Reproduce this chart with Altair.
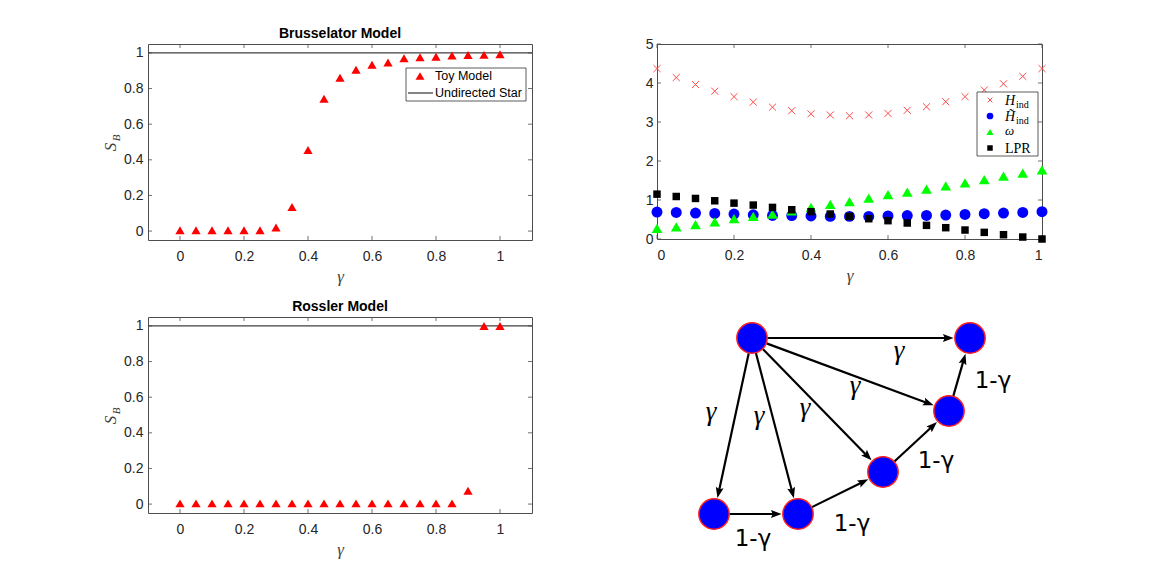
import altair as alt
import numpy as np
import pandas as pd

# ---------------- data ----------------
gamma = [0.0, 0.05, 0.1, 0.15, 0.2, 0.25, 0.3, 0.35, 0.4, 0.45, 0.5,
         0.55, 0.6, 0.65, 0.7, 0.75, 0.8, 0.85, 0.9, 0.95, 1.0]
brusselator_sb = [0.005, 0.005, 0.005, 0.005, 0.005, 0.005, 0.02, 0.135, 0.455, 0.743, 0.86,
                  0.905, 0.933, 0.946, 0.97, 0.975, 0.978, 0.985, 0.988, 0.989, 0.992]
rossler_sb = [0.004, 0.004, 0.004, 0.004, 0.004, 0.004, 0.004, 0.004, 0.004, 0.004, 0.004,
              0.004, 0.004, 0.004, 0.004, 0.004, 0.004, 0.004, 0.075, 1.0, 1.0]
undirected_star_sb = [1.0]

h_ind = [4.37, 4.14, 3.96, 3.79, 3.65, 3.51, 3.38, 3.29, 3.21, 3.18, 3.16,
         3.18, 3.22, 3.30, 3.39, 3.52, 3.65, 3.82, 3.98, 4.17, 4.37]
h_ind_tilde = [0.69, 0.68, 0.665, 0.655, 0.64, 0.62, 0.605, 0.60, 0.59, 0.58, 0.58,
               0.58, 0.59, 0.60, 0.605, 0.615, 0.63, 0.65, 0.665, 0.68, 0.70]
omega = [0.27, 0.31, 0.37, 0.44, 0.52, 0.58, 0.64, 0.72, 0.81, 0.89, 0.96,
         1.05, 1.14, 1.20, 1.28, 1.36, 1.44, 1.52, 1.61, 1.69, 1.77]
lpr = [1.15, 1.09, 1.04, 0.98, 0.92, 0.87, 0.81, 0.75, 0.70, 0.64, 0.58,
       0.52, 0.47, 0.41, 0.35, 0.29, 0.23, 0.17, 0.11, 0.05, 0.0]

sb_xticks = [0, 0.2, 0.4, 0.6, 0.8, 1]
sb_yticks = [0, 0.2, 0.4, 0.6, 0.8, 1]
met_xticks = [0, 0.2, 0.4, 0.6, 0.8, 1]
met_yticks = [0, 1, 2, 3, 4, 5]

# network diagram (layout units)
node_x = [81, 299, 278, 212, 127, 43]
node_y = [21, 21, 94, 155, 197, 197]
edge_from = [0, 0, 0, 0, 0, 5, 4, 3, 2]
edge_to = [5, 4, 3, 2, 1, 4, 3, 2, 1]
gamma_text = ["γ", "γ", "γ", "γ", "γ"]
gamma_text_x = [40, 88, 134, 184, 228]
gamma_text_y = [103, 107, 99, 77, 42]
one_minus_text = ["1-γ", "1-γ", "1-γ", "1-γ"]
one_minus_text_x = [82, 181, 265, 322]
one_minus_text_y = [229, 214, 151, 71]

# ---------------- style ----------------
SANS = "Liberation Sans"
SERIF = "Liberation Serif"
FRAME = "#4d4d4d"
SB_W, SB_H = 384, 196
MET_W, MET_H = 385, 195
G_W, G_H = 370, 245

one = pd.DataFrame({"v": [0]})


def inner_ticks(xt, yt, xs, ys, xa, ya, W, H):
    xdf = pd.DataFrame({"t": xt})
    ydf = pd.DataFrame({"t": yt})
    base = dict(color=FRAME, strokeWidth=0.8)
    return [
        alt.Chart(xdf).mark_rule(**base).encode(x=alt.X("t:Q", scale=xs, axis=xa), y=alt.value(H), y2=alt.value(H - 4)),
        alt.Chart(xdf).mark_rule(**base).encode(x=alt.X("t:Q", scale=xs, axis=xa), y=alt.value(0), y2=alt.value(4)),
        alt.Chart(ydf).mark_rule(**base).encode(y=alt.Y("t:Q", scale=ys, axis=ya), x=alt.value(0), x2=alt.value(4)),
        alt.Chart(ydf).mark_rule(**base).encode(y=alt.Y("t:Q", scale=ys, axis=ya), x=alt.value(W - 4), x2=alt.value(W)),
    ]


def sb_panel(title, values, legend):
    xs = alt.Scale(domain=[-0.1, 1.1], nice=False, zero=False)
    ys = alt.Scale(domain=[-0.05, 1.05], nice=False, zero=False)
    xa = alt.Axis(values=sb_xticks, format="~g", title="γ", labelPadding=9, titlePadding=5)
    ya = alt.Axis(values=sb_yticks, format="~g", title=None, labelPadding=5)
    df = pd.DataFrame({"g": gamma, "sb": values})
    star = pd.DataFrame({"v": undirected_star_sb})
    layers = inner_ticks(sb_xticks, sb_yticks, xs, ys, xa, ya, SB_W, SB_H)
    layers.append(alt.Chart(star).mark_rule(color="#404040", strokeWidth=1.3).encode(
        y=alt.Y("v:Q", scale=ys, axis=ya)))
    layers.append(alt.Chart(df).mark_point(shape="triangle-up", filled=True, color="#ff0000",
                                           size=85, opacity=1).encode(
        x=alt.X("g:Q", scale=xs, axis=xa), y=alt.Y("sb:Q", scale=ys, axis=ya)))
    # y axis title S_B
    layers.append(alt.Chart(one).mark_text(text="S", angle=270, font=SERIF, fontStyle="italic",
                                           fontSize=17, color="#404040").encode(
        x=alt.value(-37), y=alt.value(103)))
    layers.append(alt.Chart(one).mark_text(text="B", angle=270, font=SERIF, fontStyle="italic",
                                           fontSize=11, color="#404040").encode(
        x=alt.value(-31), y=alt.value(94)))
    if legend:
        layers += [
            alt.Chart(one).mark_rect(fill="white", stroke="#333333", strokeWidth=0.8).encode(
                x=alt.value(258), x2=alt.value(378), y=alt.value(24), y2=alt.value(57)),
            alt.Chart(one).mark_point(shape="triangle-up", filled=True, color="#ff0000", size=80, opacity=1).encode(
                x=alt.value(272), y=alt.value(32)),
            alt.Chart(one).mark_rule(color="#404040", strokeWidth=1.3).encode(
                x=alt.value(260), x2=alt.value(285), y=alt.value(49)),
            alt.Chart(one).mark_text(text="Toy Model", font=SANS, fontSize=12.5, align="left",
                                     baseline="middle", color="#000000").encode(x=alt.value(287), y=alt.value(32)),
            alt.Chart(one).mark_text(text="Undirected Star", font=SANS, fontSize=12.5, align="left",
                                     baseline="middle", color="#000000").encode(x=alt.value(287), y=alt.value(49)),
        ]
    return alt.layer(*layers).properties(
        width=SB_W, height=SB_H,
        title=alt.TitleParams(title, font=SANS, fontSize=14, fontWeight="bold", color="#000000",
                              offset=3, frame="group", anchor="middle"))


def metrics_panel():
    xs = alt.Scale(domain=[0, 1], nice=False, zero=False)
    ys = alt.Scale(domain=[0, 5], nice=False, zero=False)
    xa = alt.Axis(values=met_xticks, format="~g", title="γ", labelPadding=9, titlePadding=5)
    ya = alt.Axis(values=met_yticks, format="~g", title=None, labelPadding=4)
    df = pd.DataFrame({"g": gamma, "h": h_ind, "ht": h_ind_tilde, "w": omega, "l": lpr})
    X = alt.X("g:Q", scale=xs, axis=xa)
    cross = "M-1,-1L1,1M-1,1L1,-1"
    layers = inner_ticks(met_xticks, met_yticks, xs, ys, xa, ya, MET_W, MET_H)
    layers += [
        alt.Chart(df).mark_point(shape=cross, filled=False, color="#ff4a4a", strokeWidth=1, size=50, opacity=1).encode(
            x=X, y=alt.Y("h:Q", scale=ys, axis=ya)),
        alt.Chart(df).mark_point(shape="circle", filled=True, color="#0000ff", size=120, opacity=1).encode(
            x=X, y=alt.Y("ht:Q", scale=ys, axis=ya)),
        alt.Chart(df).mark_point(shape="triangle-up", filled=True, color="#00ff00", size=115, opacity=1).encode(
            x=X, y=alt.Y("w:Q", scale=ys, axis=ya)),
        alt.Chart(df).mark_point(shape="square", filled=True, color="#000000", size=56, opacity=1).encode(
            x=X, y=alt.Y("l:Q", scale=ys, axis=ya)),
    ]
    # legend
    lx, tx = 333, 348
    rows = [56, 72, 88, 104]
    layers += [
        alt.Chart(one).mark_rect(fill="white", stroke="#333333", strokeWidth=0.8).encode(
            x=alt.value(320), x2=alt.value(381), y=alt.value(48), y2=alt.value(112)),
        alt.Chart(one).mark_point(shape=cross, filled=False, color="#ff4a4a", strokeWidth=1, size=22, opacity=1).encode(
            x=alt.value(lx), y=alt.value(rows[0])),
        alt.Chart(one).mark_point(shape="circle", filled=True, color="#0000ff", size=45, opacity=1).encode(
            x=alt.value(lx), y=alt.value(rows[1])),
        alt.Chart(one).mark_point(shape="triangle-up", filled=True, color="#00ff00", size=50, opacity=1).encode(
            x=alt.value(lx), y=alt.value(rows[2])),
        alt.Chart(one).mark_point(shape="square", filled=True, color="#000000", size=30, opacity=1).encode(
            x=alt.value(lx), y=alt.value(rows[3])),
    ]
    txt = dict(font=SERIF, color="#000000", align="left", baseline="alphabetic")
    layers += [
        alt.Chart(one).mark_text(text="H", fontSize=14, fontStyle="italic", **txt).encode(
            x=alt.value(tx), y=alt.value(rows[0] + 5)),
        alt.Chart(one).mark_text(text="ind", fontSize=10, **txt).encode(
            x=alt.value(tx + 11), y=alt.value(rows[0] + 8)),
        alt.Chart(one).mark_text(text="H\u0303", fontSize=14, fontStyle="italic", **txt).encode(
            x=alt.value(tx), y=alt.value(rows[1] + 5)),
        alt.Chart(one).mark_text(text="ind", fontSize=10, **txt).encode(
            x=alt.value(tx + 11), y=alt.value(rows[1] + 8)),
        alt.Chart(one).mark_text(text="ω", fontSize=13, fontStyle="italic", **txt).encode(
            x=alt.value(tx), y=alt.value(rows[2] + 3)),
        alt.Chart(one).mark_text(text="LPR", fontSize=14, **txt).encode(
            x=alt.value(tx), y=alt.value(rows[3] + 5)),
    ]
    return alt.layer(*layers).properties(width=MET_W, height=MET_H)


def graph_panel():
    gx = alt.Scale(domain=[0, G_W], nice=False, zero=False)
    gy = alt.Scale(domain=[0, G_H], nice=False, zero=False, reverse=True)
    NODE_R = 15.5
    HEAD_R = 6.0
    px = np.array(node_x, dtype=float)
    py = np.array(node_y, dtype=float)
    s = np.array(edge_from)
    d = np.array(edge_to)
    dx = px[d] - px[s]
    dy = py[d] - py[s]
    L = np.hypot(dx, dy)
    ux, uy = dx / L, dy / L
    tipx = px[d] - ux * (NODE_R + 1)
    tipy = py[d] - uy * (NODE_R + 1)
    edges = pd.DataFrame({
        "x1": px[s] + ux * NODE_R, "y1": py[s] + uy * NODE_R,
        "x2": tipx - ux * HEAD_R, "y2": tipy - uy * HEAD_R,
        "hx": tipx - ux * HEAD_R, "hy": tipy - uy * HEAD_R,
        "ang": np.mod(np.degrees(np.arctan2(ux, -uy)), 360),
    })
    nodes = pd.DataFrame({"x": node_x, "y": node_y})
    g_labels = pd.DataFrame({"x": gamma_text_x, "y": gamma_text_y, "t": gamma_text})
    o_labels = pd.DataFrame({"x": one_minus_text_x, "y": one_minus_text_y, "t": one_minus_text})
    head = "M0,-1L0.65,0.75L0,0.45L-0.65,0.75Z"
    lines = alt.Chart(edges).mark_rule(color="#000000", strokeWidth=2.2).encode(
        x=alt.X("x1:Q", scale=gx, axis=None), y=alt.Y("y1:Q", scale=gy, axis=None),
        x2="x2:Q", y2="y2:Q")
    heads = alt.Chart(edges).mark_point(shape=head, filled=True, color="#000000", size=150, opacity=1).encode(
        x=alt.X("hx:Q", scale=gx, axis=None), y=alt.Y("hy:Q", scale=gy, axis=None),
        angle=alt.Angle("ang:Q", scale=None))
    circles = alt.Chart(nodes).mark_point(shape="circle", filled=True, fill="#0000ff", stroke="#ff2020",
                                          strokeWidth=1.5, size=920, opacity=1).encode(
        x=alt.X("x:Q", scale=gx, axis=None), y=alt.Y("y:Q", scale=gy, axis=None))
    gtexts = alt.Chart(g_labels).mark_text(font=SERIF, fontStyle="italic", fontSize=27, color="#000000",
                                           align="center", baseline="alphabetic").encode(
        x=alt.X("x:Q", scale=gx, axis=None), y=alt.Y("y:Q", scale=gy, axis=None), text="t:N")
    otexts = alt.Chart(o_labels).mark_text(font="DejaVu Sans", fontSize=23, color="#000000",
                                           align="center", baseline="alphabetic").encode(
        x=alt.X("x:Q", scale=gx, axis=None), y=alt.Y("y:Q", scale=gy, axis=None), text="t:N")
    return alt.layer(lines, heads, circles, gtexts, otexts).properties(
        width=G_W, height=G_H, view=alt.ViewBackground(stroke="transparent"))


top = alt.hconcat(sb_panel("Brusselator Model", brusselator_sb, True), metrics_panel(), spacing=110)
bottom = alt.hconcat(sb_panel("Rossler Model", rossler_sb, False), graph_panel(), spacing=136)

chart = alt.vconcat(top, bottom, spacing=14).properties(
    padding={"left": 93, "top": 18, "right": 5, "bottom": 5}
).configure_view(
    stroke=FRAME, strokeWidth=1
).configure_axis(
    domain=False, ticks=False, tickSize=0, grid=False,
    labelFont=SANS, labelFontSize=14, labelColor="#262626",
    titleFont=SERIF, titleFontStyle="italic", titleFontSize=17, titleColor="#404040",
    titleFontWeight="normal"
)

chart.save("out.html", embed_options={"renderer": "svg", "actions": False})
